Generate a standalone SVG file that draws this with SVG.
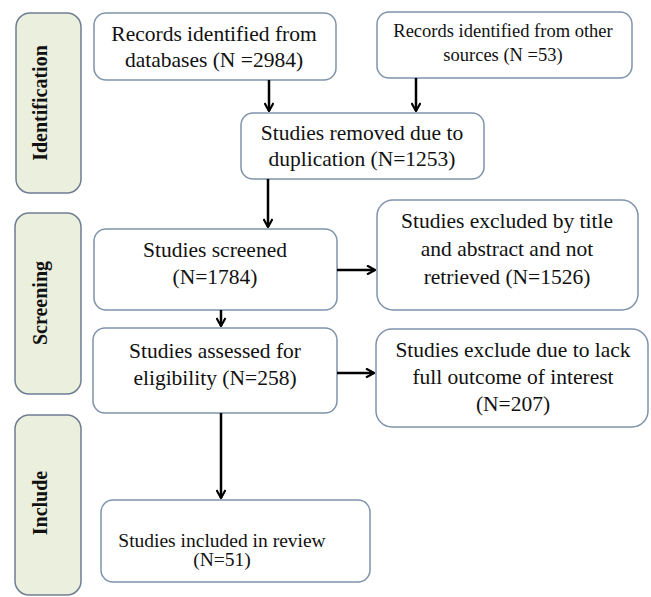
<svg xmlns="http://www.w3.org/2000/svg" width="651" height="597" viewBox="0 0 651 597">
<defs>
<marker id="ah" markerWidth="10" markerHeight="10" refX="9" refY="5" orient="auto" markerUnits="userSpaceOnUse">
<path d="M1,0.5 L9,5 L1,9.5" fill="none" stroke="#000" stroke-width="2.2"/>
</marker>
<style>
.side{fill:#ebefde;stroke:#6f7f92;stroke-width:1.5}
.box{fill:#fff;stroke:#7f93ab;stroke-width:1.5}
.t{font-family:"Liberation Serif","Times New Roman",serif;font-size:21.5px;fill:#111;text-anchor:middle}
.s{font-size:18.5px}
.r{font-size:19.5px}
.lab{font-family:"Liberation Serif","Times New Roman",serif;font-size:20px;font-weight:bold;fill:#111;text-anchor:middle}
.c{stroke:#000;stroke-width:2.5;fill:none}
</style>
</defs>
<rect width="651" height="597" fill="#fff"/>
<g id="identification">
<rect class="side" x="16" y="13" width="65" height="180" rx="14"/>
<text class="lab" transform="translate(47,103) rotate(-90)">Identification</text>
</g>
<g id="screening">
<rect class="side" x="15" y="213" width="66" height="181" rx="14"/>
<text class="lab" transform="translate(47,303) rotate(-90)">Screening</text>
</g>
<g id="include">
<rect class="side" x="15" y="415" width="66" height="180" rx="14"/>
<text class="lab" transform="translate(47,503) rotate(-90)">Include</text>
</g>
<g id="db">
<rect class="box" x="94" y="13" width="242" height="67" rx="12"/>
<text class="t" x="214" y="41">Records identified from</text>
<text class="t" x="214" y="67">databases (N =2984)</text>
</g>
<g id="other">
<rect class="box" x="377" y="12" width="255" height="66" rx="12"/>
<text class="t s" x="503" y="37">Records identified from other</text>
<text class="t s" x="503" y="61">sources (N =53)</text>
</g>
<g id="dup">
<rect class="box" x="241" y="113" width="243" height="66" rx="12"/>
<text class="t" x="362" y="140">Studies removed due to</text>
<text class="t" x="362" y="166">duplication (N=1253)</text>
</g>
<g id="screened">
<rect class="box" x="94" y="229" width="243" height="81" rx="12"/>
<text class="t" x="215" y="257">Studies screened</text>
<text class="t" x="215" y="284">(N=1784)</text>
</g>
<g id="excl1">
<rect class="box" x="377" y="200" width="261" height="110" rx="16"/>
<text class="t" x="507" y="228">Studies excluded by title</text>
<text class="t" x="507" y="256">and abstract and not</text>
<text class="t" x="507" y="284">retrieved (N=1526)</text>
</g>
<g id="assessed">
<rect class="box" x="93" y="328" width="244" height="85" rx="12"/>
<text class="t" x="215" y="358">Studies assessed for</text>
<text class="t" x="215" y="385">eligibility (N=258)</text>
</g>
<g id="excl2">
<rect class="box" x="376" y="329" width="272" height="98" rx="16"/>
<text class="t" x="513" y="357">Studies exclude due to lack</text>
<text class="t" x="513" y="384">full outcome of interest</text>
<text class="t" x="513" y="411">(N=207)</text>
</g>
<g id="included">
<rect class="box" x="101" y="500" width="269" height="82" rx="12"/>
<text class="t r" x="222" y="547">Studies included in review</text>
<text class="t r" x="222" y="566">(N=51)</text>
</g>
<g id="connectors">
<line class="c" x1="269" y1="80" x2="269" y2="111" marker-end="url(#ah)"/>
<line class="c" x1="416" y1="78" x2="416" y2="111" marker-end="url(#ah)"/>
<line class="c" x1="268" y1="179" x2="268" y2="227" marker-end="url(#ah)"/>
<line class="c" x1="221" y1="310" x2="221" y2="326" marker-end="url(#ah)"/>
<line class="c" x1="337" y1="270" x2="375" y2="270" marker-end="url(#ah)"/>
<line class="c" x1="337" y1="373" x2="374" y2="373" marker-end="url(#ah)"/>
<line class="c" x1="221" y1="413" x2="221" y2="498" marker-end="url(#ah)"/>
</g>
</svg>
